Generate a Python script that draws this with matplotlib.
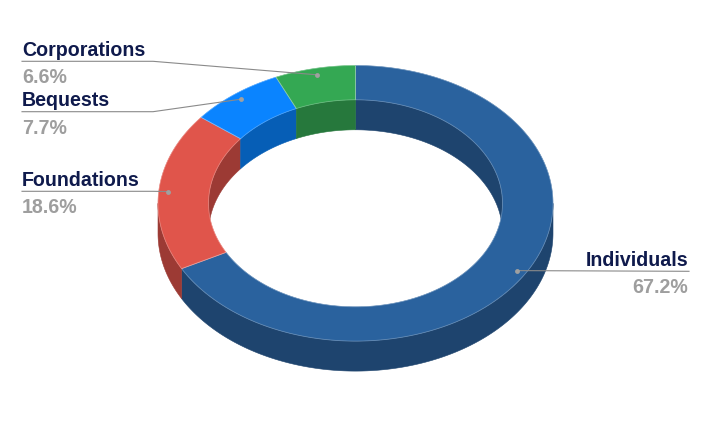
import numpy as np
import matplotlib
matplotlib.use('Agg')
import matplotlib.pyplot as plt
from matplotlib.patches import Polygon

categories = ['Individuals', 'Foundations', 'Bequests', 'Corporations']
values = [67.2, 18.6, 7.7, 6.6]
pct_labels = ['67.2%', '18.6%', '7.7%', '6.6%']
top_colors = ['#2a629e', '#e0554b', '#0a84ff', '#34a853']
side_colors = ['#1e446e', '#9c3a34', '#065eb6', '#26783c']

W, H = 711, 439
fig = plt.figure(figsize=(W / 100, H / 100), dpi=100)
ax = fig.add_axes([0, 0, 1, 1])
ax.set_xlim(0, W)
ax.set_ylim(H, 0)
ax.axis('off')

cx, cy = 355.5, 204.3
rxo, ryo = 197.5, 137.8
rxi, ryi = 147.0, 103.5
depth = 30.0


def pts(t, rx, ry, dy=0.0):
    return np.column_stack([cx + rx * np.sin(t), cy - ry * np.cos(t) + dy])


def arc(a0, a1, n=None):
    if n is None:
        n = max(4, int(abs(a1 - a0) / (2 * np.pi) * 720))
    return np.linspace(a0, a1, n)


def overlap(a0, a1, b0, b1):
    lo, hi = max(a0, b0), min(a1, b1)
    return (lo, hi) if hi > lo else None


fr = np.array(values) / np.sum(values)
edges = np.concatenate([[0], np.cumsum(fr)]) * 2 * np.pi

# inner walls (back half, visible through the hole)
back = [(0, np.pi / 2), (3 * np.pi / 2, 2 * np.pi)]
for i in range(len(values)):
    for b0, b1 in back:
        o = overlap(edges[i], edges[i + 1], b0, b1)
        if o:
            t = arc(*o)
            top = pts(t, rxi, ryi)
            bot = pts(t[::-1], rxi, ryi, depth)
            ax.add_patch(Polygon(np.vstack([top, bot]), closed=True,
                                 facecolor=side_colors[i], edgecolor=side_colors[i],
                                 lw=0.4, zorder=1))

# outer walls (front half)
for i in range(len(values)):
    o = overlap(edges[i], edges[i + 1], np.pi / 2, 3 * np.pi / 2)
    if o:
        t = arc(*o)
        top = pts(t, rxo, ryo)
        bot = pts(t[::-1], rxo, ryo, depth)
        ax.add_patch(Polygon(np.vstack([top, bot]), closed=True,
                             facecolor=side_colors[i], edgecolor=side_colors[i],
                             lw=0.4, zorder=2))

# top faces
for i in range(len(values)):
    t = arc(edges[i], edges[i + 1])
    outer = pts(t, rxo, ryo)
    inner = pts(t[::-1], rxi, ryi)
    ax.add_patch(Polygon(np.vstack([outer, inner]), closed=True,
                         facecolor=top_colors[i], edgecolor=top_colors[i],
                         lw=0.4, zorder=3))
# faint highlight edges
for i in range(len(values)):
    t = arc(edges[i], edges[i + 1])
    outer = pts(t, rxo, ryo)
    inner = pts(t[::-1], rxi, ryi)
    ax.add_patch(Polygon(np.vstack([outer, inner]), closed=True,
                         facecolor='none', edgecolor=(1, 1, 1, 0.25),
                         lw=0.6, zorder=4))

# labels
font = dict(family=['Liberation Sans', 'DejaVu Sans'], fontsize=14.1, fontweight='bold')
label_color = '#0f1a4c'
pct_color = '#9e9e9e'
line_color = '#8a8a8a'
dot_f = 0.953

line_y = {'Individuals': 272.3, 'Foundations': 192.3, 'Bequests': 112.7, 'Corporations': 62.3}
for i, name in enumerate(categories):
    mid = (edges[i] + edges[i + 1]) / 2
    dx, dy = pts(np.array([mid]), rxo * dot_f, ryo * dot_f)[0]
    ly = line_y[name]
    if np.sin(mid) > 0:
        xr = 689
        ax.plot([dx, xr], [dy, ly], color=line_color, lw=0.8, zorder=5)
        ax.text(688, ly - 6.5, name, color=label_color, ha='right', va='baseline', zorder=6, **font)
        ax.text(688, ly + 21, pct_labels[i], color=pct_color, ha='right', va='baseline', zorder=6, **font)
    else:
        xl = 22
        ax.plot([xl, 153, dx], [ly, ly, dy], color=line_color, lw=0.8, zorder=5)
        ax.text(xl, ly - 6.5, name, color=label_color, ha='left', va='baseline', zorder=6, **font)
        ax.text(xl, ly + 21, pct_labels[i], color=pct_color, ha='left', va='baseline', zorder=6, **font)
    ax.plot([dx], [dy], 'o', color='#a0a0a0', ms=3.5, mec='none', zorder=6)

fig.savefig('out.png', dpi=100)
